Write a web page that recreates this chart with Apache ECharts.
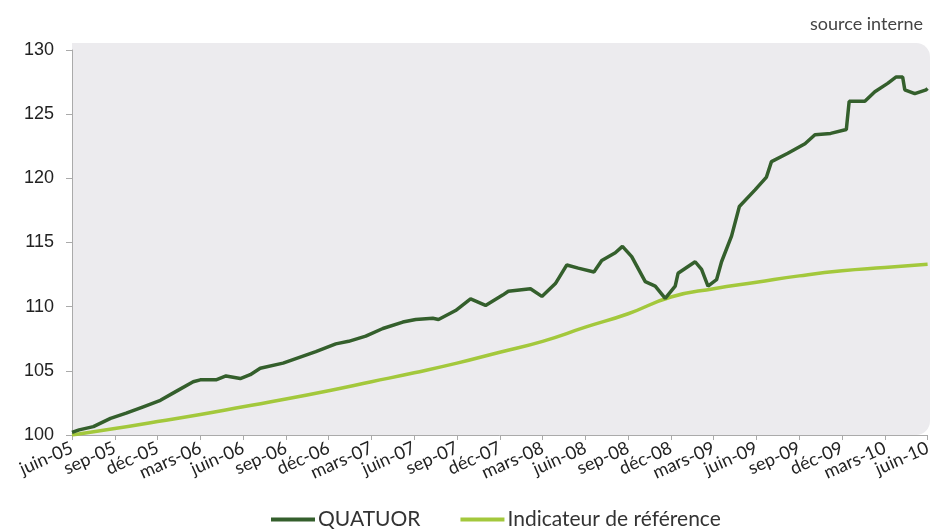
<!DOCTYPE html>
<html>
<head>
<meta charset="utf-8">
<script src="https://cdn.jsdelivr.net/npm/echarts@6/dist/echarts.min.js"></script>
<style>
  html, body { margin: 0; padding: 0; background: #fff; }
  #chart { width: 934px; height: 532px; }
</style>
</head>
<body>
<div id="chart"></div>
<script>
// tick labels, one per quarter (x = months since juin-05)
var tickLabels = ['juin-05','sep-05','déc-05','mars-06','juin-06','sep-06','déc-06','mars-07','juin-07','sep-07','déc-07',
  'mars-08','juin-08','sep-08','déc-08','mars-09','juin-09','sep-09','déc-09','mars-10','juin-10'];

// QUATUOR : [mois, valeur]
var quatuor = [
  [0, 100.2], [0.5, 100.4], [1.5, 100.65], [2.7, 101.3], [3.8, 101.7], [5.0, 102.2], [6.2, 102.7],
  [7.3, 103.4], [8.5, 104.15], [9.0, 104.3], [10.1, 104.3], [10.8, 104.6], [11.8, 104.4], [12.5, 104.7],
  [13.2, 105.2], [14.8, 105.6], [17.1, 106.5], [18.5, 107.1], [19.4, 107.3], [20.6, 107.7], [21.8, 108.3],
  [23.2, 108.8], [24.1, 109.0], [25.3, 109.1], [25.7, 109.0], [26.9, 109.7], [27.95, 110.6], [29.0, 110.1],
  [30.2, 110.9], [30.6, 111.2], [32.15, 111.4], [32.95, 110.8], [33.9, 111.8], [34.7, 113.25], [35.5, 113.0],
  [36.6, 112.7], [37.15, 113.6], [38.1, 114.2], [38.6, 114.7], [39.25, 113.9], [40.2, 111.95], [40.9, 111.6],
  [41.6, 110.65], [42.3, 111.6], [42.5, 112.6], [43.7, 113.5], [44.15, 112.9], [44.6, 111.6], [45.2, 112.1],
  [45.55, 113.5], [46.25, 115.5], [46.8, 117.8], [47.9, 119.1], [48.7, 120.1], [49.05, 121.3], [50.2, 121.95],
  [51.4, 122.7], [52.1, 123.4], [53.2, 123.5], [54.3, 123.8], [54.5, 126.0], [55.6, 126.0], [56.3, 126.75],
  [57.2, 127.4], [57.8, 127.9], [58.25, 127.9], [58.4, 126.9], [59.1, 126.6], [59.9, 126.9], [60, 127.0]
];

// Indicateur de référence : [mois, valeur]
var reference = [
  [0, 100], [3, 100.5], [6, 101.05], [9, 101.6], [12, 102.2], [15, 102.8], [18, 103.45], [21, 104.15],
  [24, 104.85], [27, 105.6], [30, 106.45], [33, 107.3], [36, 108.4], [39, 109.45], [42, 110.75],
  [45, 111.4], [48, 111.9], [51, 112.4], [54, 112.8], [57, 113.05], [60, 113.3]
];

var chart = echarts.init(document.getElementById('chart'));
var option = {
  animation: false,
  title: {
    text: 'source interne',
    right: 6, top: 10,
    textStyle: { fontFamily: 'Lato', fontWeight: 'normal', fontSize: 18, color: '#444' }
  },
  graphic: {
    z: -10,
    elements: [{
      type: 'rect',
      silent: true,
      shape: { x: 72, y: 43, width: 858, height: 392, r: [0, 14, 14, 0] },
      style: { fill: '#ecebee' }
    }]
  },
  grid: { left: 72, right: 4, top: 50, bottom: 97 },
  legend: {
    top: 504, left: 266,
    data: ['QUATUOR', 'Indicateur de référence'],
    icon: 'rect', itemWidth: 44, itemHeight: 4, itemGap: 40,
    textStyle: { fontFamily: 'Lato', fontSize: 21, color: '#333', padding: [0, 0, 0, -2] }
  },
  xAxis: [{
    // quarterly labels
    type: 'category', data: tickLabels, boundaryGap: false,
    axisLine: { lineStyle: { color: '#aaa' } },
    axisTick: { show: true, length: 5, interval: 0, lineStyle: { color: '#aaa' } },
    splitLine: { show: false },
    axisLabel: { interval: 0, rotate: 24, margin: 12, fontFamily: 'Lato', fontSize: 18, color: '#222' }
  }, {
    // months since juin-05, carries the data
    type: 'value', min: 0, max: 60, show: false, splitLine: { show: false }
  }],
  yAxis: {
    type: 'value', min: 100, max: 130, interval: 5,
    axisLine: { show: true, lineStyle: { color: '#aaa' } },
    axisTick: { show: true, length: 6, lineStyle: { color: '#aaa' } },
    splitLine: { show: false },
    axisLabel: { margin: 18, fontFamily: 'Liberation Sans', fontSize: 18, color: '#222' }
  },
  series: [{
    name: 'Indicateur de référence',
    type: 'line',
    xAxisIndex: 1,
    data: reference,
    smooth: true,
    showSymbol: false,
    lineStyle: { color: '#a3c83c', width: 3.5 },
    itemStyle: { color: '#a3c83c' }
  }, {
    name: 'QUATUOR',
    type: 'line',
    xAxisIndex: 1,
    data: quatuor,
    showSymbol: false,
    lineStyle: { color: '#345f2c', width: 3.5 },
    itemStyle: { color: '#345f2c' }
  }]
};
chart.setOption(option);
</script>
</body>
</html>
